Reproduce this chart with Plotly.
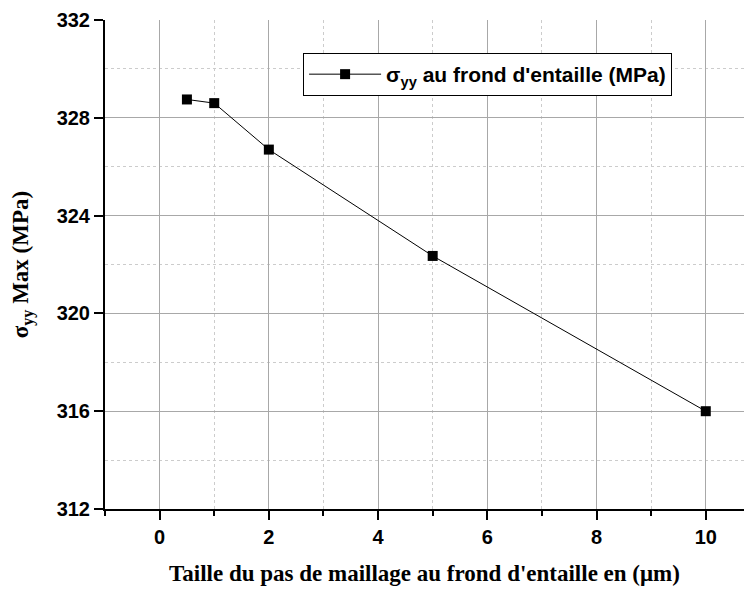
import plotly.graph_objects as go

mesh_size = [0.5, 1, 2, 5, 10]
sigma_yy = [328.75, 328.6, 326.7, 322.35, 316.0]
series_name = "<b>σ<sub>yy</sub> au frond d'entaille (MPa)</b>"
x_ticks = [0, 2, 4, 6, 8, 10]
y_ticks = [312, 316, 320, 324, 328, 332]

fig = go.Figure()
fig.add_trace(go.Scatter(
    x=mesh_size, y=sigma_yy, mode="lines+markers", name=series_name,
    line=dict(color="black", width=1),
    marker=dict(symbol="square", size=10, color="black"),
))

axis_font = dict(family="Liberation Sans, Arial", size=20, color="black")
fig.update_layout(
    width=736, height=578,
    margin=dict(l=97, r=0, t=12, b=77, autoexpand=False),
    paper_bgcolor="white", plot_bgcolor="white",
    showlegend=True,
    legend=dict(x=0.31, y=0.9325, xanchor="left", yanchor="top",
                bordercolor="black", borderwidth=1, bgcolor="white",
                font=dict(family="Liberation Sans, Arial", size=21, color="black"),
                itemwidth=72, tracegroupgap=0),
    xaxis=dict(
        range=[-1, 10.70], tickvals=x_ticks, ticktext=[f"<b>{v}</b>" for v in x_ticks],
        tickfont=axis_font, ticks="outside", ticklen=9, tickwidth=1.5, tickcolor="black",
        showline=True, linecolor="black", linewidth=2, automargin=False,
        showgrid=True, gridcolor="#a8a8a8", gridwidth=1, zeroline=False,
        minor=dict(dtick=1, tick0=0, ticks="outside", ticklen=5, tickcolor="black",
                   showgrid=True, gridcolor="#cccccc", griddash="dot", gridwidth=1),
        title=dict(text="<b>Taille du pas de maillage au frond d'entaille en (μm)</b>",
                   font=dict(family="Liberation Serif, Times New Roman", size=23, color="black"),
                   standoff=20),
    ),
    yaxis=dict(
        range=[312, 332], tickvals=y_ticks, ticktext=[f"<b>{v}</b>" for v in y_ticks],
        tickfont=axis_font, ticks="outside", ticklen=9, tickwidth=1.5, tickcolor="black",
        showline=True, linecolor="black", linewidth=2, automargin=False,
        showgrid=True, gridcolor="#a8a8a8", gridwidth=1, zeroline=False,
        minor=dict(dtick=2, tick0=312, ticks="", showgrid=True,
                   gridcolor="#cccccc", griddash="dot", gridwidth=1),
        title=dict(text="<b>σ<sub>yy</sub> Max (MPa)</b>",
                   font=dict(family="Liberation Serif, Times New Roman", size=23, color="black"),
                   standoff=26),
    ),
)

fig.write_html("out.html")
